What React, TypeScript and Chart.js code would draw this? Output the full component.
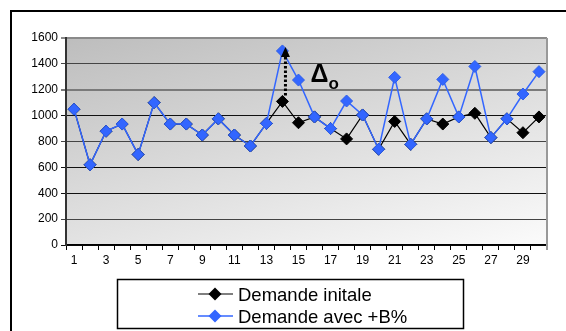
import React, { useEffect, useRef } from "react";
import { Chart, registerables } from "chart.js";

Chart.register(...registerables);

const categories = ["1","2","3","4","5","6","7","8","9","10","11","12","13","14","15","16","17","18","19","20","21","22","23","24","25","26","27","28","29","30"];
const demandeInitiale = [1050,620,880,935,700,1100,935,935,850,975,850,765,940,1110,945,990,900,820,1005,740,955,778,975,935,990,1018,830,975,868,990];
const demandeAvec = [1050,620,880,935,700,1100,935,935,850,975,850,765,940,1500,1275,990,900,1113,1005,740,1296,778,975,1280,990,1380,830,975,1167,1340];
const yTicks = [0,200,400,600,800,1000,1200,1400,1600];
const seriesLabels = ["Demande initale", "Demande avec +B%"];
const deltaIndex = 13;

const FONT = "'Liberation Sans', Arial, sans-serif";

function diamond(ctx: CanvasRenderingContext2D, x: number, y: number, r: number) {
  ctx.beginPath();
  ctx.moveTo(x, y - r);
  ctx.lineTo(x + r, y);
  ctx.lineTo(x, y + r);
  ctx.lineTo(x - r, y);
  ctx.closePath();
}

const bgPlugin = {
  id: "bgPlugin",
  beforeDraw(chart: any) {
    const { ctx, chartArea: a } = chart;
    ctx.save();
    ctx.fillStyle = "#ffffff";
    ctx.fillRect(0, 0, chart.width, chart.height);
    ctx.strokeStyle = "#000";
    ctx.lineWidth = 2;
    ctx.beginPath();
    ctx.moveTo(11, chart.height);
    ctx.lineTo(11, 11);
    ctx.lineTo(chart.width, 11);
    ctx.stroke();
    const w = a.right - a.left;
    const h = a.bottom - a.top;
    // direction weighted so vertical change dominates (as in the reference)
    const dx = 25 / w, dy = 39 / h;
    const k = 64 / (dx * dx + dy * dy);
    const g = ctx.createLinearGradient(a.left, a.top, a.left + dx * k, a.top + dy * k);
    g.addColorStop(0, "#bdbdbd");
    g.addColorStop(1, "#fbfbfb");
    ctx.fillStyle = g;
    ctx.fillRect(a.left, a.top, w, h);
    ctx.restore();
  },
  beforeDatasetsDraw(chart: any) {
    const { ctx, chartArea: a } = chart;
    ctx.save();
    ctx.strokeStyle = "#999";
    ctx.lineWidth = 2;
    ctx.beginPath();
    ctx.moveTo(a.right, a.top);
    ctx.lineTo(a.right, a.bottom + 5);
    ctx.stroke();
    ctx.restore();
  },
  afterDatasetsDraw(chart: any) {
    const { ctx } = chart;
    const xs = chart.scales.x;
    const ys = chart.scales.y;
    const x = xs.getPixelForValue(deltaIndex) + 3;
    const yTop = ys.getPixelForValue(demandeAvec[deltaIndex]);
    const yBot = ys.getPixelForValue(demandeInitiale[deltaIndex]);
    ctx.save();
    ctx.fillStyle = "#000";
    ctx.strokeStyle = "#000";
    ctx.beginPath();
    ctx.moveTo(x, yTop - 4);
    ctx.lineTo(x + 4.5, yTop + 6);
    ctx.lineTo(x - 4.5, yTop + 6);
    ctx.closePath();
    ctx.fill();
    ctx.lineWidth = 3;
    ctx.setLineDash([2.5, 2]);
    ctx.beginPath();
    ctx.moveTo(x, yTop + 6);
    ctx.lineTo(x, yBot - 6);
    ctx.stroke();
    ctx.setLineDash([]);
    ctx.font = `bold 25px ${FONT}`;
    ctx.textBaseline = "alphabetic";
    ctx.textAlign = "left";
    ctx.fillText("\u0394", x + 25, yTop + 31);
    ctx.font = `bold 17px ${FONT}`;
    ctx.fillText("o", x + 43, yTop + 38);
    ctx.restore();
  },
  afterDraw(chart: any) {
    const { ctx } = chart;
    ctx.save();
    ctx.strokeStyle = "#000";
    ctx.lineWidth = 1.5;
    ctx.strokeRect(117.5, 279.5, 346, 49);
    const legendOrder = [0, 1];
    legendOrder.forEach((di, row) => {
      const ds = chart.data.datasets[di];
      const cy = 294 + row * 22;
      ctx.strokeStyle = ds.borderColor;
      ctx.lineWidth = ds.borderWidth;
      ctx.beginPath();
      ctx.moveTo(198, cy);
      ctx.lineTo(233, cy);
      ctx.stroke();
      ctx.fillStyle = ds.pointBackgroundColor;
      diamond(ctx, 215, cy, 6.5);
      ctx.fill();
      ctx.fillStyle = "#000";
      ctx.font = `18.5px ${FONT}`;
      ctx.textBaseline = "alphabetic";
      ctx.textAlign = "left";
      ctx.fillText(ds.label, 238, cy + 7);
    });
    ctx.restore();
  },
};

export default function App() {
  const ref = useRef<HTMLCanvasElement | null>(null);

  useEffect(() => {
    if (!ref.current) return;
    Chart.defaults.font.family = FONT;
    const chart = new Chart(ref.current, {
      type: "line",
      data: {
        labels: categories,
        datasets: [
          {
            label: seriesLabels[0],
            data: demandeInitiale,
            borderColor: "#000000",
            backgroundColor: "#000000",
            pointBackgroundColor: "#000000",
            pointBorderColor: "#000000",
            borderWidth: 1.2,
            pointStyle: "rectRot",
            pointRadius: 6,
            pointBorderWidth: 1,
            tension: 0,
            order: 2,
          },
          {
            label: seriesLabels[1],
            data: demandeAvec,
            borderColor: "#3366ff",
            backgroundColor: "#3366ff",
            pointBackgroundColor: "#3366ff",
            pointBorderColor: "#2f5fe8",
            borderWidth: 1.5,
            pointStyle: "rectRot",
            pointRadius: 6,
            pointBorderWidth: 1,
            tension: 0,
            order: 1,
          },
        ],
      },
      options: {
        responsive: false,
        animation: false,
        events: [],
        layout: { padding: { left: 0, top: 38, right: 19, bottom: 56 } },
        plugins: {
          legend: { display: false },
          tooltip: { enabled: false },
          title: { display: false },
        },
        scales: {
          x: {
            offset: true,
            afterFit: (s: any) => { s.height = 30; },
            grid: {
              offset: true,
              drawOnChartArea: false,
              drawTicks: true,
              tickLength: 5,
              color: "#000",
              lineWidth: 1,
            },
            border: { display: true, color: "#000", width: 1.5 },
            ticks: {
              autoSkip: false,
              maxRotation: 0,
              minRotation: 0,
              padding: 3,
              color: "#000",
              font: { size: 12, family: FONT },
              callback: (_v: any, i: number) => (i % 2 === 0 ? categories[i] : ""),
            },
          },
          y: {
            min: 0,
            max: 1600,
            afterFit: (s: any) => { s.width = 66; },
            afterBuildTicks: (s: any) => { s.ticks = yTicks.map((v) => ({ value: v })); },
            grid: {
              drawTicks: true,
              tickLength: 5,
              color: (c: any) => {
                const v = c.tick ? c.tick.value : 0;
                if (v === 1200) return "#7a7a7a";
                if (v === 1600) return "#8a8a8a";
                if (v === 200 || v === 800 || v === 1400) return "#444";
                return "#111";
              },
              lineWidth: (c: any) => {
                const v = c.tick ? c.tick.value : 0;
                return v === 1200 || v === 1600 ? 2 : 1;
              },
            },
            border: { display: true, color: "#333", width: 2 },
            ticks: {
              padding: 3,
              color: "#000",
              font: { size: 12, family: FONT },
              callback: (v: any) => String(v),
            },
          },
        },
      },
      plugins: [bgPlugin],
    });
    return () => chart.destroy();
  }, []);

  return (
    <div style={{ position: "fixed", left: 0, top: 0, width: 566, height: 331, background: "#fff" }}>
      <canvas ref={ref} width={566} height={331} style={{ display: "block" }} />
    </div>
  );
}
